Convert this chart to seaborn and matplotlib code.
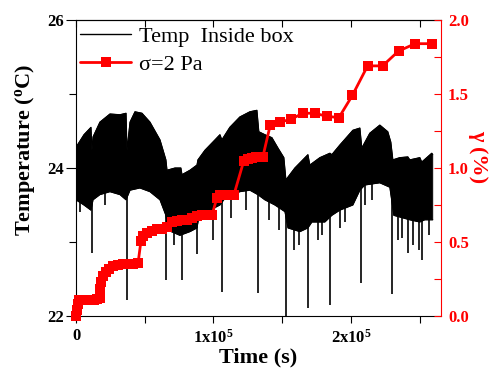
import numpy as np
import pandas as pd
import matplotlib
matplotlib.use("Agg")
import matplotlib.pyplot as plt
from matplotlib.lines import Line2D
from matplotlib.ticker import FixedLocator, MultipleLocator
import seaborn as sns

# ---------------- data ----------------
# shear strain gamma (%) vs time (s), sigma = 2 Pa
strain_time = [0, 700, 1500, 2200, 4400, 6500, 8700, 10900, 13100, 15300, 17400,
               17800, 18200, 19600, 21800, 24000, 26900, 30500, 34200, 37800, 41400,
               45100, 47300, 48700, 51600, 55300, 58900, 62500, 66200, 69800, 73400,
               77100, 80700, 84300, 88000, 91600, 95200, 98900, 102500, 104700, 108300,
               112000, 114900, 122100, 125000, 128000, 130900, 133800, 135900, 141300,
               148500, 156500, 165000, 173500, 182300, 191200, 201000, 212100, 223000,
               234600, 246700, 259300]
strain_pct = [0.0, 0.04, 0.08, 0.11, 0.11, 0.11, 0.11, 0.11, 0.11, 0.115, 0.12,
              0.18, 0.23, 0.27, 0.30, 0.32, 0.34, 0.345, 0.35, 0.35, 0.35,
              0.355, 0.51, 0.54, 0.56, 0.575, 0.585, 0.59, 0.60, 0.635, 0.64,
              0.65, 0.65, 0.66, 0.675, 0.68, 0.68, 0.68, 0.80, 0.82, 0.82,
              0.82, 0.82, 1.05, 1.06, 1.07, 1.075, 1.075, 1.075, 1.29,
              1.31, 1.33, 1.37, 1.37, 1.35, 1.34, 1.49, 1.69, 1.69,
              1.79, 1.84, 1.84]

# temperature inside box: upper envelope of the fast oscillation
temp_upper_time = [0, 5800, 10900, 11600, 12400, 17400, 24700, 32000, 36400, 37100,
                   39300, 42900, 48000, 53800, 61100, 65400, 66200, 72000, 76300, 77100,
                   82900, 88000, 88700, 93800, 101100, 104700, 106100, 111900, 119200,
                   126500, 131600, 133000, 137400, 142500, 146900, 151200, 152700,
                   159200, 168700, 170100, 177400, 184700, 186100, 191900, 201400,
                   206500, 207900, 213700, 221000, 226800, 229000, 230500, 235500,
                   241400, 242800, 250100, 251500, 258800, 259500]
temp_upper = [24.28, 24.45, 24.55, 24.24, 24.42, 24.62, 24.73, 24.72, 24.74, 24.24,
              24.62, 24.76, 24.74, 24.62, 24.38, 24.11, 23.97, 24.00, 24.00, 23.91,
              23.97, 24.04, 24.11, 24.24, 24.38, 24.45, 24.38, 24.55, 24.69,
              24.76, 24.78, 24.49, 24.45, 24.41, 24.27, 24.14, 23.84,
              24.00, 24.18, 24.04, 24.14, 24.20, 24.18, 24.31, 24.51,
              24.54, 24.27, 24.47, 24.58, 24.49, 24.35, 24.11, 24.14,
              24.15, 24.11, 24.14, 24.08, 24.20, 24.18]

# lower envelope of the oscillation band
temp_lower_time = [0, 5800, 10900, 12400, 17400, 24700, 32000, 36400, 39300, 46500,
                   53800, 61100, 65400, 66900, 75600, 82900, 88000, 90100, 97400,
                   104700, 108300, 119200, 126500, 132300, 137400, 144700, 152000,
                   154200, 162900, 168700, 171600, 181000, 186100, 191900, 201400,
                   206500, 210100, 221000, 228300, 231200, 242800, 250100, 253700, 259500]
temp_lower = [23.57, 23.50, 23.43, 23.57, 23.64, 23.68, 23.64, 23.57, 23.70, 23.73,
              23.68, 23.57, 23.36, 23.16, 23.09, 23.14, 23.19, 23.41, 23.43,
              23.50, 23.59, 23.68, 23.70, 23.64, 23.57, 23.50, 23.41,
              23.19, 23.14, 23.19, 23.27, 23.27, 23.36, 23.43, 23.50,
              23.70, 23.77, 23.80, 23.74, 23.36, 23.30, 23.27, 23.30, 23.30]

# sharp downward spikes (door openings): time, minimum, start level
spike_time = [11600, 37100, 65400, 77100, 88000, 106100, 132300, 152700, 168700,
              184700, 207200, 229700, 241400, 251500,
              2900, 21100, 71300, 99300, 112700, 123600, 140100, 147400, 158500,
              162200, 176000, 178900, 191900, 195500, 210100, 215200, 234100,
              237000, 245000, 256600, 249400]
spike_low = [22.85, 22.22, 22.49, 22.49, 22.84, 22.32, 22.31, 21.98, 22.11,
             22.15, 22.45, 22.30, 22.85, 22.76,
             23.41, 23.50, 22.96, 23.03, 23.32, 23.43, 23.30, 23.16, 22.89,
             22.96, 23.03, 23.09, 23.19, 23.27, 23.50, 23.57, 23.03,
             23.05, 22.96, 23.09, 22.89]
spike_top = [23.55, 23.65, 23.45, 23.20, 23.25, 23.55, 23.65, 23.45, 23.25,
             23.35, 23.75, 23.75, 23.35, 23.35,
             23.60, 23.70, 23.20, 23.50, 23.65, 23.75, 23.65, 23.60, 23.25,
             23.25, 23.35, 23.35, 23.50, 23.55, 23.80, 23.85, 23.40,
             23.40, 23.35, 23.40, 23.35]

x_ticks = [0, 100000, 200000]
x_tick_labels = ["0", "1x10$^{\\mathbf{5}}$", "2x10$^{\\mathbf{5}}$"]
temp_ticks = [22, 24, 26]
strain_ticks = [0.0, 0.5, 1.0, 1.5, 2.0]

# ---------------- style ----------------
sns.set_style("ticks")
plt.rcParams["font.family"] = ["Liberation Serif", "DejaVu Serif"]
plt.rcParams["mathtext.fontset"] = "custom"
plt.rcParams["mathtext.rm"] = "Liberation Serif"
plt.rcParams["mathtext.bf"] = "Liberation Serif:bold"
plt.rcParams["mathtext.it"] = "Liberation Serif:italic"
plt.rcParams["text.color"] = "black"
plt.rcParams["axes.labelcolor"] = "black"
plt.rcParams["xtick.color"] = "black"
plt.rcParams["ytick.color"] = "black"

RED = "#ff0000"

fig = plt.figure(figsize=(4.98, 3.70), dpi=100)
ax = fig.add_axes([76 / 498, 1 - 316 / 370, 365 / 498, 296 / 370])
ax2 = ax.twinx()

# ---------------- temperature (black) ----------------
poly_t = np.r_[temp_upper_time, temp_lower_time[::-1]]
poly_T = np.r_[temp_upper, temp_lower[::-1]]
ax.fill(poly_t, poly_T, color="black", lw=0.6, zorder=2)
sns.lineplot(x=temp_upper_time, y=temp_upper, ax=ax, color="black", lw=0.8,
             estimator=None, sort=False, zorder=2)
sns.lineplot(x=temp_lower_time, y=temp_lower, ax=ax, color="black", lw=0.8,
             estimator=None, sort=False, zorder=2)
ax.vlines(spike_time, spike_low, spike_top, color="black", lw=1.2, zorder=2)

# ---------------- strain (red) ----------------
sns.lineplot(x=strain_time, y=strain_pct, ax=ax2, color=RED, lw=2.0,
             marker="s", markersize=7, markeredgewidth=0, estimator=None,
             sort=False, clip_on=False, zorder=5)

# ---------------- axes ----------------
ax.set_xlim(0, 265500)
ax.set_ylim(22, 26)
ax2.set_ylim(0, 2.0)

ax.xaxis.set_major_locator(FixedLocator(x_ticks))
ax.set_xticklabels(x_tick_labels)
ax.xaxis.set_minor_locator(MultipleLocator(50000))
ax.yaxis.set_major_locator(FixedLocator(temp_ticks))
ax.yaxis.set_minor_locator(MultipleLocator(1))
ax2.yaxis.set_major_locator(FixedLocator(strain_ticks))
ax2.yaxis.set_minor_locator(MultipleLocator(0.25))

ax.tick_params(axis="x", which="both", direction="out", length=5, width=0.8,
               labelsize=12, pad=4, colors="black")
ax.tick_params(axis="y", which="major", direction="out", length=7, width=0.8,
               labelsize=12, pad=2, colors="black")
ax.tick_params(axis="y", which="minor", direction="out", length=5, width=0.8,
               colors="black")
for lab in ax.get_xticklabels() + ax.get_yticklabels():
    lab.set_fontweight("bold")

secx = ax.secondary_xaxis("top")
secx.xaxis.set_major_locator(FixedLocator(x_ticks))
secx.xaxis.set_minor_locator(MultipleLocator(50000))
secx.tick_params(which="both", direction="in", length=5, width=0.8, labeltop=False,
                 colors="black")
secx.spines["top"].set_linewidth(0.8)
secx.spines["top"].set_color("black")

ax2.tick_params(axis="y", which="both", direction="in", length=5, width=0.8,
                colors=RED, labelsize=12, pad=5)
for lab in ax2.get_yticklabels():
    lab.set_fontweight("bold")

for s in ["left", "bottom", "top"]:
    ax.spines[s].set_linewidth(0.8)
    ax.spines[s].set_color("black")
ax.spines["right"].set_visible(False)
for s in ["left", "bottom", "top"]:
    ax2.spines[s].set_visible(False)
ax2.spines["right"].set_color(RED)
ax2.spines["right"].set_linewidth(0.8)

ax.set_xlabel("Time (s)", fontsize=16, fontweight="bold", labelpad=1, color="black")
ax.set_ylabel("Temperature ($^{\\mathbf{o}}$C)", fontsize=16, fontweight="bold",
              color="black")
ax.yaxis.set_label_coords(-0.107, 0.56)
ax2.set_ylabel("\u03b3 (%)", fontsize=16, fontweight="bold", color=RED,
               rotation=270, va="bottom")
ax2.yaxis.set_label_coords(1.075, 0.537)

# ---------------- legend ----------------
h1 = Line2D([], [], color="black", lw=1.0)
h2 = Line2D([], [], color=RED, lw=2.0, marker="s", markersize=7, markeredgewidth=0)
leg = ax2.legend([h1, h2], ["Temp  Inside box", "\u03c3=2 Pa"], loc="upper left",
                 bbox_to_anchor=(78 / 498, 1 - 24 / 370), bbox_transform=fig.transFigure,
                 frameon=False, fontsize=16, handlelength=2.3, handletextpad=0.35,
                 labelspacing=0.33, borderpad=0.1, borderaxespad=0,
                 labelcolor="black")

fig.savefig("out.png", dpi=100)
